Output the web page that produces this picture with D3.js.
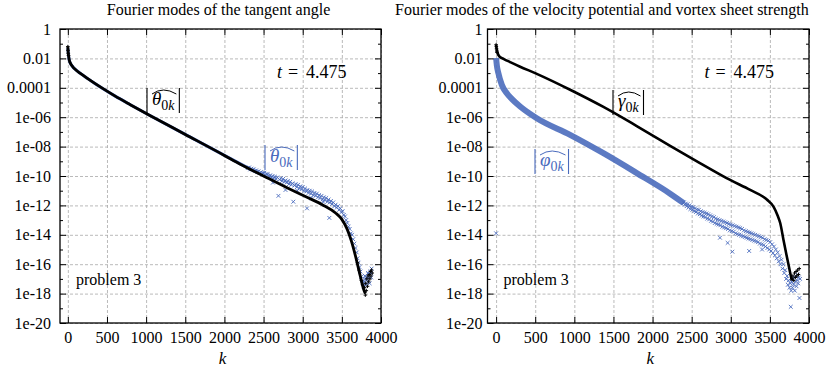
<!DOCTYPE html>
<html><head><meta charset="utf-8">
<script src="https://cdn.jsdelivr.net/npm/d3@7/dist/d3.min.js"></script>
<style>
body{margin:0;background:#fff}
svg text{font-family:"Liberation Serif","Times New Roman",serif}
</style>
</head><body>
<svg id="c" width="830" height="369"></svg>
<script>
// ---------- tick labels ----------
const xTicks = [0, 500, 1000, 1500, 2000, 2500, 3000, 3500, 4000];
const xTickLabels = ["0", "500", "1000", "1500", "2000", "2500", "3000", "3500", "4000"];
const yTickVals = [1, 1e-2, 1e-4, 1e-6, 1e-8, 1e-10, 1e-12, 1e-14, 1e-16, 1e-18, 1e-20];
const yTickLabels = ["1", "0.01", "0.0001", "1e-06", "1e-08", "1e-10", "1e-12", "1e-14", "1e-16", "1e-18", "1e-20"];
const yMinorVals = [1e-1, 1e-3, 1e-5, 1e-7, 1e-9, 1e-11, 1e-13, 1e-15, 1e-17, 1e-19];

// ---------- left panel: tangent angle (log10 of |mode|) ----------
const thetaK   = [0, 4, 10, 20, 35, 60, 100, 160, 250, 350, 450, 600, 798, 1054, 1500, 2000, 2203, 2500, 2800, 3055, 3250, 3416, 3500, 3566, 3620, 3672, 3735, 3778, 3800];
const thetaLog = [-1.2, -1.55, -1.85, -2.15, -2.35, -2.55, -2.77, -3.02, -3.36, -3.72, -4.06, -4.55, -5.15, -5.9, -7.17, -8.6, -9.2, -10.0, -10.8, -11.45, -11.95, -12.5, -12.95, -13.6, -14.4, -15.4, -16.8, -17.7, -18.0];
const thetaTailK   = [0, 3, 6, 9, 3700, 3720, 3750, 3765, 3790, 3800, 3805, 3812, 3820, 3828, 3835, 3842, 3850, 3858, 3865, 3872, 3880, 3888];
const thetaTailLog = [-1.2, -1.45, -1.65, -1.8, -15.9, -16.4, -17.1, -17.4, -17.6, -18.1, -17.3, -17.8, -17.0, -17.5, -16.8, -17.2, -16.7, -17.0, -16.5, -16.8, -16.4, -16.6];

const thetaBlueLineK   = [0, 10, 20, 35, 60, 100, 160, 250, 350, 450, 600, 798, 1054, 1500, 2000, 2300];
const thetaBlueLineLog = [-1.3, -1.85, -2.15, -2.35, -2.55, -2.77, -3.02, -3.36, -3.72, -4.06, -4.55, -5.15, -5.9, -7.17, -8.6, -9.45];
const thetaBlueK = [2300,2315,2330,2345,2360,2375,2390,2405,2420,2435,2450,2465,2480,2495,2510,2525,2540,2555,2570,2585,2600,2615,2630,2645,2660,2675,2690,2705,2720,2735,2750,2765,2780,2795,2810,2825,2840,2855,2870,2880,2895,2910,2925,2940,2955,2970,2985,3000,3015,3030,3045,3055,3060,3075,3090,3105,3120,3135,3150,3165,3180,3195,3210,3225,3240,3255,3270,3285,3300,3315,3330,3340,3345,3360,3375,3390,3405,3420,3435,3450,3465,3480,3495,3510,3525,3540,3555,3570,3585,3600,3615,3630,3645,3660,3675,3690,3700,3712,3725,3738,3750,3760,3770,3780,3790,3800,3810,3820,3830,3840,3850,3860,3870,3880,3795,3815,3835,3855,3875,2620,2780,2930,3110,3260];
const thetaBlueLog = [-9.45,-9.42,-9.55,-9.5,-9.58,-9.55,-9.65,-9.62,-9.72,-9.68,-9.8,-9.74,-9.85,-9.8,-9.78,-9.95,-9.85,-9.9,-10.05,-9.95,-10.1,-10.0,-10.15,-10.05,-10.2,-10.1,-11.35,-10.25,-10.15,-10.35,-10.2,-10.4,-10.3,-10.45,-10.35,-10.55,-10.4,-10.6,-10.5,-11.75,-10.65,-10.55,-10.75,-10.6,-10.85,-10.7,-10.9,-10.75,-11.0,-10.85,-11.05,-12.2,-10.95,-11.15,-11.0,-11.2,-11.05,-11.3,-11.15,-11.35,-11.2,-11.45,-11.3,-11.5,-11.35,-11.6,-11.45,-11.65,-11.5,-11.75,-11.6,-12.85,-11.8,-11.7,-11.9,-11.8,-12.05,-11.95,-12.15,-12.05,-12.3,-12.2,-12.45,-12.4,-12.65,-12.75,-13.0,-13.2,-13.45,-13.6,-13.9,-14.0,-14.3,-14.6,-14.9,-15.2,-15.6,-15.9,-16.2,-16.5,-16.85,-17.1,-17.3,-17.5,-17.2,-17.0,-17.4,-16.9,-17.2,-16.7,-16.9,-16.5,-16.6,-16.3,-16.8,-17.0,-16.6,-17.3,-16.9,-10.45,-10.95,-11.0,-11.5,-11.75];

// ---------- right panel: velocity potential & vortex sheet strength ----------
const gammaK   = [0, 8, 20, 45, 100, 179, 300, 520, 946, 1372, 1798, 2225, 2600, 2992, 3248, 3461, 3546, 3600, 3632, 3674, 3717, 3760, 3780];
const gammaLog = [-1.07, -1.4, -1.65, -1.88, -2.05, -2.25, -2.55, -3.05, -4.13, -5.3, -6.6, -7.95, -9.1, -10.27, -10.95, -11.6, -12.08, -12.7, -13.2, -14.35, -15.5, -16.6, -17.1];
const gammaTailK   = [0, 3, 6, 9, 12, 3785, 3795, 3805, 3815, 3825, 3835, 3845, 3855, 3865, 3875];
const gammaTailLog = [-1.07, -1.2, -1.35, -1.5, -1.6, -17.0, -16.8, -17.1, -16.6, -16.9, -16.5, -16.8, -16.4, -16.7, -16.3];

const phiLineK   = [0, 10, 29, 73, 137, 200, 307, 520, 946, 1372, 1798, 2225, 2400];
const phiLineLog = [-1.97, -2.5, -3.0, -3.8, -4.37, -4.75, -5.27, -6.07, -7.2, -8.45, -9.8, -11.2, -11.85];
const phiK = [0,2400,2412,2424,2436,2448,2460,2472,2484,2496,2508,2520,2532,2544,2556,2568,2580,2592,2604,2616,2628,2640,2652,2664,2676,2688,2700,2712,2724,2736,2748,2760,2772,2784,2796,2808,2820,2832,2844,2856,2862,2868,2880,2892,2904,2916,2928,2940,2952,2960,2964,2976,2988,3000,3012,3020,3024,3036,3048,3060,3072,3084,3096,3108,3120,3132,3144,3156,3168,3180,3192,3204,3216,3228,3235,3240,3252,3264,3276,3288,3300,3312,3324,3336,3348,3360,3372,3384,3396,3400,3408,3420,3432,3444,3456,3468,3480,3492,3504,3516,3528,3540,3552,3564,3576,3588,3600,3612,3624,3636,3648,3660,3672,3684,3696,3708,3720,3730,3740,3750,3760,3767,3772,3780,3788,3795,3802,3810,3818,3825,3832,3840,3848,3855,3862,3870,3878,3885];
const phiLog = [-13.9,-11.8,-11.95,-11.88,-12.05,-11.92,-12.15,-12.0,-12.25,-12.1,-12.3,-12.12,-12.4,-12.2,-12.45,-12.28,-12.55,-12.3,-12.6,-12.4,-12.7,-12.45,-12.75,-12.5,-12.8,-12.55,-12.9,-12.6,-12.95,-12.68,-13.05,-12.75,-13.1,-12.8,-13.2,-12.9,-13.25,-12.95,-13.3,-13.0,-14.2,-13.35,-13.05,-13.45,-13.1,-13.5,-13.15,-13.55,-13.2,-14.55,-13.6,-13.25,-13.7,-13.3,-13.75,-15.15,-13.35,-13.8,-13.4,-13.9,-13.45,-13.95,-13.5,-14.0,-13.55,-14.05,-13.6,-14.1,-13.7,-14.15,-13.75,-14.2,-13.8,-14.25,-15.1,-13.85,-14.3,-13.9,-14.35,-13.95,-14.4,-14.0,-14.45,-14.05,-14.5,-14.1,-14.6,-14.15,-14.65,-15.0,-14.2,-14.7,-14.3,-14.8,-14.35,-14.9,-14.4,-15.0,-14.5,-15.1,-14.65,-15.25,-14.8,-15.4,-15.0,-15.6,-15.2,-15.8,-15.45,-16.0,-15.7,-16.3,-16.0,-16.6,-16.4,-17.0,-16.8,-17.4,-17.1,-17.6,-17.3,-18.9,-17.8,-17.2,-17.6,-17.0,-17.4,-16.9,-17.8,-17.2,-16.8,-17.5,-17.1,-16.7,-17.3,-16.9,-18.3,-17.0];

// ---------- drawing ----------
const svg = d3.select("#c");
const BLUE = "#4a6bbd";
const yTop = 29, yBot = 323;

function pts(ks, ls) { return ks.map((k, i) => ({k: k, v: Math.pow(10, ls[i])})); }

function mathLabel(g, x0, top, greek, color) {
  const t = g.append("text").attr("x", x0 + 5).attr("y", top + 17).attr("fill", color).style("font-size", "19px");
  t.append("tspan").attr("font-style", "italic").text(greek);
  t.append("tspan").attr("dy", 5).style("font-size", "14px").text("0");
  t.append("tspan").attr("font-style", "italic").style("font-size", "14px").text("k");
  const bb = t.node().getBBox();
  const x1 = bb.x + bb.width + 4;
  g.append("line").attr("x1", x0).attr("x2", x0).attr("y1", top).attr("y2", top + 25).attr("stroke", color).attr("stroke-width", 1.1);
  g.append("line").attr("x1", x1).attr("x2", x1).attr("y1", top).attr("y2", top + 25).attr("stroke", color).attr("stroke-width", 1.1);
  g.append("path").attr("d", `M${x0 + 5},${top + 6} Q${(x0 + x1) / 2},${top - 2} ${x1 - 3},${top + 6}`)
    .attr("fill", "none").attr("stroke", color).attr("stroke-width", 1);
}

function panel(o) {
  const g = svg.append("g");
  const x = d3.scaleLinear().domain(o.xDomain).range([o.left, o.right]);
  const y = d3.scaleLog().domain([1e-20, 1]).range([yBot, yTop]);
  const W = o.right - o.left, H = yBot - yTop;

  // grid
  const gx = g.append("g").attr("transform", `translate(0,${yBot})`)
    .call(d3.axisBottom(x).tickValues(xTicks).tickSize(-H).tickFormat(""));
  const gy = g.append("g").attr("transform", `translate(${o.left},0)`)
    .call(d3.axisLeft(y).tickValues(yTickVals).tickSize(-W).tickFormat(""));
  [gx, gy].forEach(a => {
    a.select(".domain").remove();
    a.selectAll("line").attr("stroke", "#a8a8a8").attr("stroke-width", 0.8).attr("stroke-dasharray", "3,2");
  });

  // data
  const clipId = "clip" + Math.round(o.left);
  g.append("clipPath").attr("id", clipId).append("rect").attr("x", o.left).attr("y", yTop).attr("width", W).attr("height", H);
  const d = g.append("g").attr("clip-path", `url(#${clipId})`);
  const line = d3.line().x(p => x(p.k)).y(p => y(p.v)).curve(d3.curveMonotoneX);
  const cross = (sel, data, color, r, sw) => {
    sel.selectAll(null).data(data).enter().append("path")
      .attr("d", p => `M${x(p.k) - r},${y(p.v) - r}L${x(p.k) + r},${y(p.v) + r}M${x(p.k) - r},${y(p.v) + r}L${x(p.k) + r},${y(p.v) - r}`)
      .attr("stroke", color).attr("stroke-width", sw).attr("fill", "none");
  };
  const plus = (sel, data, color, r, sw) => {
    sel.selectAll(null).data(data).enter().append("path")
      .attr("d", p => `M${x(p.k) - r},${y(p.v)}L${x(p.k) + r},${y(p.v)}M${x(p.k)},${y(p.v) - r}L${x(p.k)},${y(p.v) + r}`)
      .attr("stroke", color).attr("stroke-width", sw).attr("fill", "none");
  };
  o.draw(d, line, cross, plus);

  // ticks (inward) on all four sides
  const tick = (axis, tr, vals, size) => {
    const a = g.append("g").attr("transform", tr).call(axis.tickValues(vals).tickSize(-size).tickFormat(""));
    a.select(".domain").remove();
    a.selectAll("line").attr("stroke", "#000").attr("stroke-width", 1);
  };
  tick(d3.axisLeft(y), `translate(${o.left},0)`, yTickVals, 6);
  tick(d3.axisLeft(y), `translate(${o.left},0)`, yMinorVals, 3);
  tick(d3.axisRight(y), `translate(${o.right},0)`, yTickVals, 6);
  tick(d3.axisRight(y), `translate(${o.right},0)`, yMinorVals, 3);
  tick(d3.axisBottom(x), `translate(0,${yBot})`, xTicks, 6);
  tick(d3.axisTop(x), `translate(0,${yTop})`, xTicks, 6);

  // frame
  g.append("rect").attr("x", o.left).attr("y", yTop).attr("width", W).attr("height", H)
    .attr("fill", "none").attr("stroke", "#000").attr("stroke-width", 1.3);

  // tick labels
  const xl = g.append("g").attr("transform", `translate(0,${yBot})`)
    .call(d3.axisBottom(x).tickValues(xTicks).tickSize(0).tickPadding(9).tickFormat((v, i) => xTickLabels[i]));
  xl.select(".domain").remove();
  xl.selectAll("text").attr("font-family", "Liberation Serif").style("font-size", "16px").attr("fill", "#000");
  const yl = g.append("g").attr("transform", `translate(${o.left},0)`)
    .call(d3.axisLeft(y).tickValues(yTickVals).tickSize(0).tickPadding(o.ypad).tickFormat((v, i) => yTickLabels[i]));
  yl.select(".domain").remove();
  yl.selectAll("text").attr("font-family", "Liberation Serif").style("font-size", "16px").attr("fill", "#000");

  // axis title k
  g.append("text").attr("x", (o.left + o.right) / 2 + 2).attr("y", 364).attr("text-anchor", "middle")
    .attr("font-style", "italic").style("font-size", "17px").text("k");

  // chart title
  g.append("text").attr("x", o.titleX).attr("y", 15).attr("text-anchor", o.titleAnchor)
    .style("font-size", "16px").text(o.title);

  // t = 4.475
  const tt = g.append("text").attr("y", 78).style("font-size", "18px");
  tt.append("tspan").attr("x", o.left + 217).attr("font-style", "italic").text("t");
  tt.append("tspan").attr("x", o.left + 228).text("=");
  tt.append("tspan").attr("x", o.left + 246).text("4.475");

  // problem 3
  g.append("text").attr("x", o.left + 16).attr("y", 285).style("font-size", "16px").text("problem 3");

  o.labels(g);
}

panel({
  left: 60, right: 381, xDomain: [-100, 4000], ypad: 9,
  title: "Fourier modes of the tangent angle", titleX: 218.5, titleAnchor: "middle",
  draw: (d, line, cross, plus) => {
    d.append("path").attr("d", line(pts(thetaBlueLineK, thetaBlueLineLog))).attr("fill", "none").attr("stroke", BLUE).attr("stroke-width", 3);
    cross(d, pts(thetaBlueK, thetaBlueLog), BLUE, 1.9, 0.9);
    d.append("path").attr("d", line(pts(thetaK, thetaLog))).attr("fill", "none").attr("stroke", "#000").attr("stroke-width", 2.8);
    plus(d, pts(thetaTailK, thetaTailLog), "#000", 1.8, 1);
  },
  labels: g => {
    mathLabel(g, 147, 88, "θ", "#000");
    mathLabel(g, 265, 145, "θ", BLUE);
  }
});

panel({
  left: 487.5, right: 809, xDomain: [-110, 4000], ypad: 5,
  title: "Fourier modes of the velocity potential and vortex sheet strength", titleX: 395, titleAnchor: "start",
  draw: (d, line, cross, plus) => {
    d.append("path").attr("d", line(pts(phiLineK, phiLineLog))).attr("fill", "none").attr("stroke", BLUE).attr("stroke-width", 6).attr("stroke-opacity", 0.9);
    cross(d, pts(phiK, phiLog), BLUE, 1.9, 0.9);
    d.append("path").attr("d", line(pts(gammaK, gammaLog))).attr("fill", "none").attr("stroke", "#000").attr("stroke-width", 2.6);
    plus(d, pts(gammaTailK, gammaTailLog), "#000", 1.8, 1);
  },
  labels: g => {
    mathLabel(g, 613, 90, "γ", "#000");
    mathLabel(g, 535, 149, "φ", BLUE);
  }
});
</script>
</body></html>
